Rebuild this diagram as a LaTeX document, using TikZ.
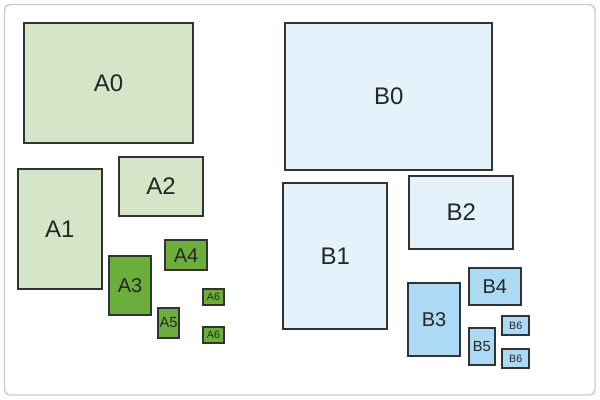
\documentclass[tikz,border=0pt]{standalone}
\usepackage{fontspec}
\setmainfont{Liberation Sans}
\definecolor{lgreen}{HTML}{D5E6C8}
\definecolor{dgreen}{HTML}{6CAE3C}
\definecolor{lblue}{HTML}{E4F3FB}
\definecolor{mblue}{HTML}{ACDAF4}
\definecolor{edge}{HTML}{333333}
\definecolor{frame}{HTML}{CCCCCC}
\begin{document}
\begin{tikzpicture}[x=0.75pt,y=-0.75pt,
  sheet/.style={draw=edge,line width=1.3pt,inner sep=0pt,outer sep=0pt,rectangle,text=black!85},
  big/.style={font=\fontsize{18}{20}\selectfont},
  mid/.style={font=\fontsize{15}{17}\selectfont},
  sml/.style={font=\fontsize{11}{13}\selectfont},
  tny/.style={font=\fontsize{8}{9}\selectfont},
  ag/.style={sheet,fill=lgreen},
  dg/.style={sheet,fill=dgreen},
  lb/.style={sheet,fill=lblue},
  mb/.style={sheet,fill=mblue},
  sz/.style 2 args={minimum width={#1*0.75pt},minimum height={#2*0.75pt}}]
\useasboundingbox (0,0) rectangle (600,400);
\draw[frame,line width=1.1pt,rounded corners=4pt] (4.5,4.5) rectangle (595,395);
\node[ag,big,sz={169}{120}] (A0) at (108.5,83.3) {A0};
\node[ag,big,sz={84.3}{119.7}] (A1) at (59.8,229.2) {A1};
\node[ag,big,sz={84.6}{59}] (A2) at (161,186.2) {A2};
\node[dg,mid,sz={42.6}{59.3}] (A3) at (130,285.3) {A3};
\node[dg,mid,sz={42.6}{29.7}] (A4) at (186,255.2) {A4};
\node[dg,sml,sz={21.6}{30.6}] (A5) at (168.5,323) {A5};
\node[dg,tny,sz={21.6}{15.7}] (A6a) at (213.5,297.2) {A6};
\node[dg,tny,sz={21.6}{16}] (A6b) at (213.5,335.3) {A6};
\node[lb,big,sz={207}{146.7}] (B0) at (388.8,96.7) {B0};
\node[lb,big,sz={104}{145.7}] (B1) at (335.3,256.2) {B1};
\node[lb,big,sz={104}{73.3}] (B2) at (461.3,212.3) {B2};
\node[mb,mid,sz={52.6}{73.3}] (B3) at (434,319.3) {B3};
\node[mb,mid,sz={52.3}{36.7}] (B4) at (494.8,286.7) {B4};
\node[mb,sml,sz={26.3}{37}] (B5) at (481.8,346.2) {B5};
\node[mb,tny,sz={26.7}{18.7}] (B6a) at (515.7,325.7) {B6};
\node[mb,tny,sz={26.7}{18.7}] (B6b) at (515.7,358.7) {B6};
\end{tikzpicture}
\end{document}
